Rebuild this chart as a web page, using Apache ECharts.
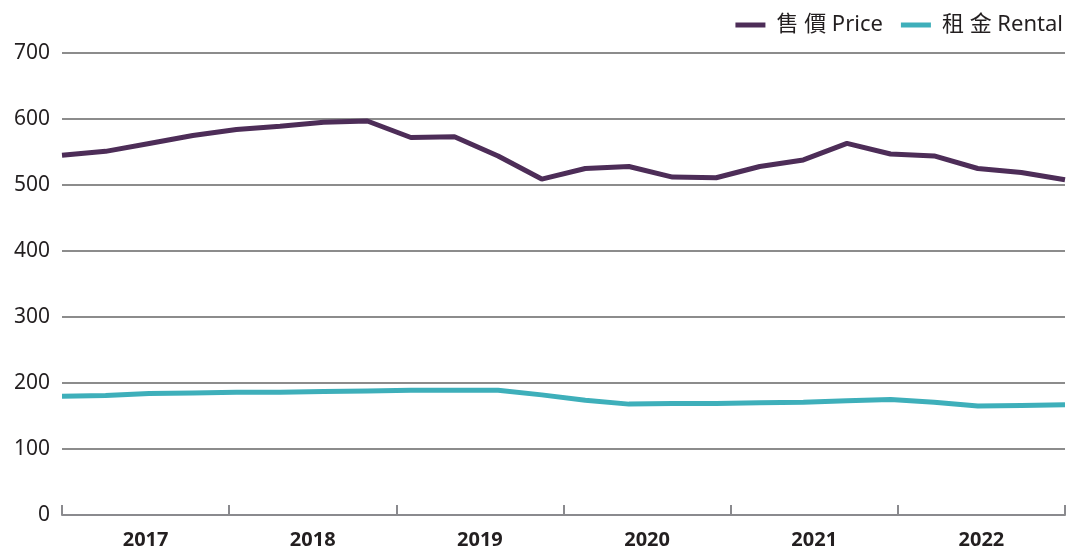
<!DOCTYPE html>
<html>
<head>
<meta charset="utf-8">
<script src="https://cdn.jsdelivr.net/npm/echarts@6/dist/echarts.min.js"></script>
<style>html,body{margin:0;padding:0;background:#fff}#c{width:1072px;height:550px}</style>
</head>
<body>
<div id="c"></div>
<script>
var years = ['2017', '2018', '2019', '2020', '2021', '2022'];
var quarterNames = ['Q1', 'Q2', 'Q3', 'Q4'];
var yTicks = [0, 100, 200, 300, 400, 500, 600, 700];
var priceName = '售 價 Price';
var rentalName = '租 金 Rental';
var price = [545, 551, 563, 575, 584, 589, 595, 597, 572, 573, 544, 509, 525, 528, 512, 511, 528, 538, 563, 547, 544, 525, 519, 508];
var rental = [180, 181, 184, 185, 186, 186, 187, 188, 189, 189, 189, 182, 174, 168, 169, 169, 170, 171, 173, 175, 171, 165, 166, 167];

var quarters = [];
years.forEach(function (y) { quarterNames.forEach(function (q) { quarters.push(y + q); }); });

var FONT = '"Noto Sans", "Noto Sans CJK TC", sans-serif';
var chart = echarts.init(document.getElementById('c'));
chart.setOption({
  animation: false,
  textStyle: { fontFamily: FONT },
  legend: {
    top: 9, right: 4,
    icon: 'rect', itemWidth: 30, itemHeight: 5, itemGap: 18,
    textStyle: { fontFamily: FONT, fontSize: 22, color: '#231f20', padding: [0, 0, 0, 6] },
    data: [priceName, rentalName]
  },
  grid: { left: 62, right: 7, top: 53, bottom: 35, containLabel: false },
  xAxis: [
    {
      type: 'category', data: years, boundaryGap: true,
      axisLine: { show: true, lineStyle: { color: '#8a8a8e', width: 2 } },
      axisTick: { show: true, inside: true, length: 10, interval: 0, lineStyle: { color: '#8a8a8e', width: 2 } },
      axisLabel: { margin: 15, fontSize: 20, fontWeight: 'bold', color: '#231f20', fontFamily: FONT }
    },
    {
      type: 'category', data: quarters, boundaryGap: false, show: false
    }
  ],
  yAxis: {
    type: 'value', min: yTicks[0], max: yTicks[yTicks.length - 1], interval: 100,
    axisLine: { show: false }, axisTick: { show: false },
    axisLabel: { margin: 12, fontSize: 21, color: '#231f20', fontFamily: FONT },
    splitLine: { lineStyle: { color: '#8c8c8c', width: 2 } }
  },
  series: [
    { name: priceName, type: 'line', xAxisIndex: 1, data: price, showSymbol: false, symbol: 'none',
      lineStyle: { color: '#4d2d58', width: 5 }, itemStyle: { color: '#4d2d58' } },
    { name: rentalName, type: 'line', xAxisIndex: 1, data: rental, showSymbol: false, symbol: 'none',
      lineStyle: { color: '#3eafba', width: 5 }, itemStyle: { color: '#3eafba' } }
  ]
});
</script>
</body>
</html>
